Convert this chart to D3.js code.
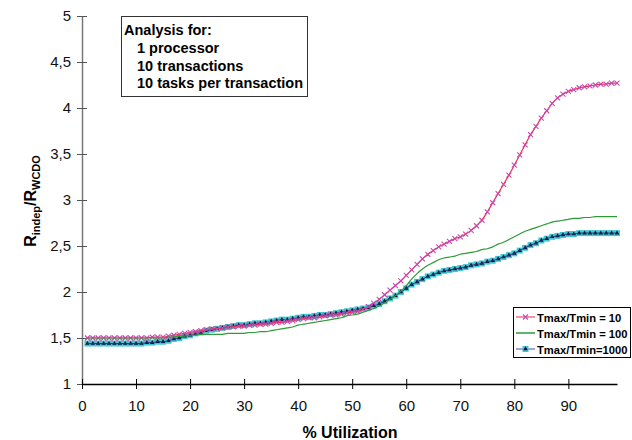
<!DOCTYPE html>
<html lang="en">
<head>
<meta charset="UTF-8">
<title>Rindep / RWCDO</title>
<style>
  body { margin: 0; background: #fff; }
  svg { font-family: "Liberation Sans", Arial, sans-serif; }
</style>
<script src="https://cdn.jsdelivr.net/npm/d3@7"></script>
</head>
<body>
<script>
// utilisation values 1..99 (%)
const utilization = d3.range(1, 100);

// Tmax/Tmin = 10
const ratio10 = [
  1.50, 1.50, 1.50, 1.50, 1.50, 1.50, 1.50, 1.50, 1.50, 1.50,
  1.50, 1.50, 1.51, 1.51, 1.51, 1.52, 1.53, 1.54, 1.55, 1.56,
  1.57, 1.58, 1.59, 1.60, 1.60, 1.61, 1.62, 1.62, 1.63, 1.63,
  1.64, 1.64, 1.65, 1.65, 1.66, 1.67, 1.67, 1.68, 1.69, 1.70,
  1.71, 1.72, 1.72, 1.73, 1.74, 1.75, 1.75, 1.76, 1.77, 1.78,
  1.79, 1.81, 1.84, 1.88, 1.92, 1.97, 2.02, 2.07, 2.12, 2.18,
  2.24, 2.30, 2.36, 2.41, 2.45, 2.49, 2.52, 2.55, 2.58, 2.60,
  2.63, 2.67, 2.72, 2.78, 2.87, 2.97, 3.07, 3.17, 3.27, 3.38,
  3.49, 3.60, 3.71, 3.80, 3.89, 3.97, 4.05, 4.11, 4.15, 4.18,
  4.20, 4.22, 4.23, 4.24, 4.25, 4.26, 4.26, 4.27, 4.27
];

// Tmax/Tmin = 100
const ratio100 = [
  1.50, 1.50, 1.50, 1.50, 1.50, 1.50, 1.50, 1.50, 1.50, 1.50,
  1.50, 1.50, 1.50, 1.50, 1.50, 1.51, 1.51, 1.52, 1.52, 1.53,
  1.53, 1.54, 1.54, 1.54, 1.54, 1.54, 1.55, 1.55, 1.55, 1.55,
  1.56, 1.56, 1.57, 1.57, 1.58, 1.59, 1.60, 1.61, 1.62, 1.64,
  1.65, 1.66, 1.67, 1.68, 1.69, 1.70, 1.71, 1.72, 1.74, 1.75,
  1.76, 1.78, 1.80, 1.82, 1.85, 1.88, 1.92, 1.96, 2.01, 2.07,
  2.14, 2.20, 2.25, 2.29, 2.32, 2.35, 2.37, 2.38, 2.39, 2.41,
  2.42, 2.43, 2.44, 2.46, 2.47, 2.49, 2.52, 2.54, 2.57, 2.60,
  2.63, 2.66, 2.68, 2.70, 2.72, 2.74, 2.76, 2.77, 2.78, 2.79,
  2.80, 2.80, 2.81, 2.81, 2.82, 2.82, 2.82, 2.82, 2.82
];

// Tmax/Tmin = 1000
const ratio1000 = [
  1.44, 1.44, 1.44, 1.44, 1.44, 1.44, 1.44, 1.44, 1.44, 1.44,
  1.44, 1.45, 1.45, 1.46, 1.46, 1.47, 1.49, 1.50, 1.52, 1.53,
  1.55, 1.56, 1.58, 1.59, 1.60, 1.61, 1.62, 1.63, 1.64, 1.64,
  1.65, 1.66, 1.66, 1.67, 1.68, 1.69, 1.70, 1.70, 1.71, 1.72,
  1.73, 1.73, 1.74, 1.75, 1.75, 1.76, 1.77, 1.78, 1.79, 1.80,
  1.81, 1.82, 1.83, 1.85, 1.87, 1.90, 1.93, 1.96, 2.00, 2.04,
  2.08, 2.11, 2.14, 2.17, 2.19, 2.21, 2.23, 2.24, 2.25, 2.26,
  2.27, 2.29, 2.30, 2.31, 2.33, 2.34, 2.36, 2.38, 2.40, 2.42,
  2.45, 2.48, 2.51, 2.53, 2.56, 2.58, 2.60, 2.61, 2.62, 2.63,
  2.63, 2.64, 2.64, 2.64, 2.64, 2.64, 2.64, 2.64, 2.64
];

const seriesNames = ["Tmax/Tmin = 10", "Tmax/Tmin = 100", "Tmax/Tmin=1000"];
const xTicks = [0, 10, 20, 30, 40, 50, 60, 70, 80, 90];
const yTicks = [1, 1.5, 2, 2.5, 3, 3.5, 4, 4.5, 5];
const noteLines = ["Analysis for:", "1 processor", "10 transactions", "10 tasks per transaction"];

const width = 632;
const height = 440;

const svg = d3.select("body").append("svg")
  .attr("width", width)
  .attr("height", height);

const x = d3.scaleLinear().domain([0, 99]).range([82, 617]);
const y = d3.scaleLinear().domain([1, 5]).range([384, 16]);

// y axis (grey), ticks crossing the line
const yAxis = svg.append("g")
  .attr("transform", "translate(82,0)")
  .call(d3.axisLeft(y).tickValues(yTicks).tickSize(5).tickSizeOuter(0)
    .tickFormat(d => String(d).replace(".", ",")));
yAxis.select(".domain").attr("stroke", "#777").attr("stroke-width", 1.5);
yAxis.selectAll(".tick line").attr("x1", 5).attr("x2", -5).attr("stroke", "#555");
yAxis.selectAll(".tick text").attr("x", -11).attr("font-size", 15)
  .attr("font-family", "Liberation Sans, Arial, sans-serif").attr("fill", "#111");

// x axis (black)
const xAxis = svg.append("g")
  .attr("transform", "translate(0,384)")
  .call(d3.axisBottom(x).tickValues(xTicks).tickSize(5).tickSizeOuter(0));
xAxis.select(".domain").attr("stroke", "#000").attr("stroke-width", 1.5);
xAxis.selectAll(".tick line").attr("y1", -5).attr("y2", 5).attr("stroke", "#000");
xAxis.selectAll(".tick text").attr("y", 16).attr("font-size", 15)
  .attr("font-family", "Liberation Sans, Arial, sans-serif").attr("fill", "#111");

// axis titles
svg.append("text")
  .attr("x", 350).attr("y", 438)
  .attr("text-anchor", "middle")
  .attr("font-weight", "bold").attr("font-size", 16)
  .text("% Utilization");

const yTitle = svg.append("text")
  .attr("transform", "translate(36,201) rotate(-90)")
  .attr("text-anchor", "middle")
  .attr("font-weight", "bold").attr("font-size", 16);
yTitle.append("tspan").text("R");
yTitle.append("tspan").attr("font-size", 11).attr("dy", 4).text("indep");
yTitle.append("tspan").attr("dy", -4).text("/R");
yTitle.append("tspan").attr("font-size", 11).attr("dy", 4).text("WCDO");

// lines
const line = d3.line()
  .x((d, i) => x(utilization[i]))
  .y(d => y(d))
  .curve(d3.curveMonotoneX);

const cross = (g, cx, cy, r) => {
  g.append("path")
    .attr("d", `M${cx - r},${cy - r}L${cx + r},${cy + r}M${cx - r},${cy + r}L${cx + r},${cy - r}`)
    .attr("stroke", "#c848b0").attr("stroke-width", 1.1).attr("fill", "none");
};
const triMark = (g, cx, cy) => {
  g.append("rect")
    .attr("x", cx - 3).attr("y", cy - 3).attr("width", 6).attr("height", 6)
    .attr("fill", "#40c8d0");
  g.append("path")
    .attr("d", d3.symbol(d3.symbolTriangle, 9)())
    .attr("transform", `translate(${cx},${cy})`)
    .attr("fill", "#101040");
};

// Tmax/Tmin = 1000
const g1000 = svg.append("g");
utilization.forEach((u, i) => triMark(g1000, x(u), y(ratio1000[i])));
g1000.append("path").datum(ratio1000).attr("d", line)
  .attr("fill", "none").attr("stroke", "#303070").attr("stroke-width", 1);

// Tmax/Tmin = 10
const g10 = svg.append("g");
g10.append("path").datum(ratio10).attr("d", line)
  .attr("fill", "none").attr("stroke", "#ec3048").attr("stroke-width", 1.2);
utilization.forEach((u, i) => cross(g10, x(u), y(ratio10[i]), 2.5));

// Tmax/Tmin = 100
svg.append("path").datum(ratio100).attr("d", line)
  .attr("fill", "none").attr("stroke", "#2e9a3a").attr("stroke-width", 1.2);

// annotation box
svg.append("rect")
  .attr("x", 121.5).attr("y", 16.5).attr("width", 186).attr("height", 80)
  .attr("fill", "#fff").attr("stroke", "#333").attr("stroke-width", 1);
svg.selectAll(".note")
  .data(noteLines)
  .join("text")
  .attr("class", "note")
  .attr("x", (d, i) => i === 0 ? 124 : 137)
  .attr("y", (d, i) => 35 + i * 17.8)
  .attr("font-weight", "bold").attr("font-size", 14.5)
  .text(d => d);

// legend
const lg = svg.append("g");
lg.append("rect")
  .attr("x", 513.5).attr("y", 307.5).attr("width", 117).attr("height", 50)
  .attr("fill", "#fff").attr("stroke", "#000").attr("stroke-width", 1);
const legendY = [317, 333, 349];
const legendColor = ["#f07080", "#2e9a3a", "#8888c8"];
seriesNames.forEach((name, i) => {
  lg.append("line")
    .attr("x1", 516).attr("x2", 535)
    .attr("y1", legendY[i]).attr("y2", legendY[i])
    .attr("stroke", legendColor[i]).attr("stroke-width", 1.5);
  lg.append("text")
    .attr("x", 537).attr("y", legendY[i] + 4.5)
    .attr("font-weight", "bold").attr("font-size", 11.2)
    .text(name);
});
cross(lg, 525.5, legendY[0], 2.5);
triMark(lg, 525.5, legendY[2]);
</script>
</body>
</html>
